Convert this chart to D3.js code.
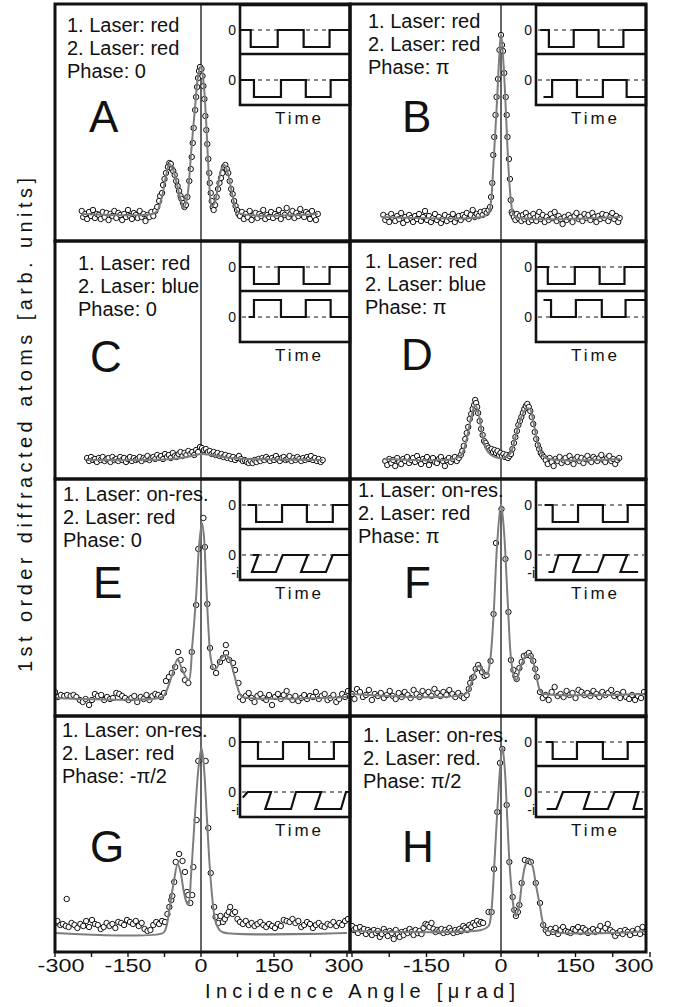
<!DOCTYPE html>
<html><head><meta charset="utf-8">
<script src="https://cdn.jsdelivr.net/npm/d3@7"></script>
<style>body{margin:0;background:#fff}svg{display:block}</style>
</head><body><svg id="c" width="678" height="1007"></svg>
<script>
// ---------------- DATA ----------------
const panelIds = ["A","B","C","D","E","F","G","H"];
const laser1 = ["red","red","red","red","on-res.","on-res.","on-res.","on-res."];
const laser2 = ["red","red","blue","blue","red","red","red","red."];
const phases = ["0","π","0","π","0","π","-π/2","π/2"];
const xTicksLeft = [-300,-150,0,150,300];
const xTicksRight = [-150,0,150,300];
const minorTicks = [-300,-225,-150,-75,0,75,150,225,300];
const xLabel = "Incidence Angle [μrad]";
const yLabel = "1st order diffracted atoms [arb. units]";

// measured points [angle µrad, signal arb.u.]
const ptsA = [[-245,30],[-242,24],[-238,27],[-234,22],[-230,29],[-226,25],[-222,31],[-218,23],[-214,27],[-210,26],[-206,22],[-202,29],[-198,24],[-194,28],[-190,21],[-186,27],[-182,25],[-178,30],[-174,23],[-170,28],[-166,26],[-162,21],[-158,27],[-154,24],[-150,31],[-146,25],[-142,22],[-138,28],[-134,26],[-130,23],[-126,30],[-122,24],[-118,27],[-114,20],[-110,26],[-106,24],[-102,29],[-98,25],[-94,30],
[-90,34],[-86,40],[-84,45],[-80,48],[-78,56],[-75,62],[-72,68],[-68,74],[-65,78],[-62,77],[-60,72],[-57,70],[-54,66],[-51,60],[-48,55],[-45,50],[-42,45],[-40,42],[-37,38],[-34,34],[-31,36],[-28,44],[-24,60],[-21,72],[-19,84],[-17,98],[-15,113],[-12,131],[-10,144],[-8,154],[-6,163],[-4,170],[-2,174],[1,172],[3,165],[5,155],[7,142],[9,125],[11,111],[13,97],[15,82],[17,68],[18,58],[20,48],[22,40],[24,34],[26,31],[29,36],[32,44],[35,52],[38,58],[41,63],[44,68],[47,74],[50,76],[53,72],[56,68],[59,60],[62,52],[65,47],[68,40],[71,35],[74,31],[77,27],
[80,25],[84,29],[88,22],[92,27],[96,24],[100,30],[104,21],[108,26],[112,28],[116,23],[120,27],[124,25],[128,31],[132,22],[136,26],[140,24],[144,29],[148,23],[152,27],[156,25],[160,31],[164,22],[168,28],[172,26],[176,33],[180,24],[184,27],[188,30],[192,23],[196,28],[200,25],[204,32],[208,26],[212,24],[216,29],[220,27],[224,22],[228,30],[232,25],[236,21],[240,27]];
const fitA = [[-245,27],[-100,27],[-90,30],[-80,45],[-72,65],[-65,77],[-58,72],[-50,58],[-42,42],[-35,33],[-28,45],[-20,90],[-12,135],[-6,165],[0,175],[5,160],[10,125],[14,85],[18,50],[22,35],[28,38],[35,55],[42,72],[48,76],[55,68],[62,52],[70,35],[78,28],[240,27]];

const ptsB = [[-237,26],[-233,21],[-229,24],[-225,19],[-221,27],[-217,23],[-213,20],[-209,25],[-205,22],[-201,28],[-197,18],[-193,24],[-189,21],[-185,26],[-181,23],[-177,19],[-173,25],[-169,22],[-165,27],[-161,20],[-157,24],[-153,30],[-149,21],[-145,25],[-141,19],[-137,23],[-133,27],[-129,21],[-125,24],[-121,18],[-117,22],[-113,26],[-109,20],[-105,24],[-101,22],[-97,27],[-93,19],[-89,23],[-85,25],[-81,21],[-77,26],[-73,24],[-69,28],[-65,22],[-61,26],[-57,31],[-53,24],[-49,27],[-45,25],[-41,29],[-37,26],[-33,30],[-29,28],[-25,31],
[-22,34],[-20,44],[-17.5,58],[-15.5,86],[-13.5,104],[-11,126],[-9,144],[-6,162],[-3,191],[0,206],[2,196],[4,190],[6.5,168],[9.5,144],[11.5,126],[13,104],[16,82],[18,62],[19.5,41],[21.5,29],[23,27],
[26,24],[29,21],[32,27],[35,23],[38,25],[41,20],[44,26],[47,22],[50,28],[53,24],[56,19],[59,25],[62,21],[65,27],[68,23],[71,20],[74,25],[77,29],[80,22],[84,26],[88,19],[92,24],[96,21],[100,27],[104,23],[108,29],[112,20],[116,25],[120,22],[124,17],[128,24],[132,21],[136,26],[140,23],[144,19],[148,25],[152,28],[156,22],[160,24],[164,20],[168,27],[172,23],[176,26],[180,21],[184,28],[188,24],[192,19],[196,25],[200,22],[204,27],[208,23],[212,26],[216,20],[220,24],[224,28],[228,22],[232,25],[236,19],[239,23]];
const fitB = [[-240,24],[-40,24],[-25,28],[-20,40],[-16,70],[-12,105],[-8,140],[-4,180],[0,207],[4,185],[8,150],[12,105],[16,65],[20,40],[24,28],[30,24],[240,24]];

const ptsC = [[-234,21],[-230,18],[-226,22],[-222,19],[-218,20],[-214,17],[-210,21],[-206,19],[-202,22],[-198,18],[-194,20],[-190,21],[-186,17],[-182,22],[-178,19],[-174,20],[-170,18],[-166,22],[-162,19],[-158,21],[-154,17],[-150,20],[-146,22],[-142,18],[-138,21],[-134,19],[-130,20],[-126,22],[-122,18],[-118,21],[-114,20],[-110,23],[-106,19],[-102,21],[-98,22],[-94,20],[-90,24],[-86,21],[-82,23],[-78,20],[-74,25],[-70,22],[-66,24],[-62,21],[-58,26],[-54,23],[-50,22],[-46,25],[-42,27],[-38,23],[-34,26],[-30,24],[-26,28],[-22,25],[-18,27],[-14,24],[-10,29],[-6,27],[-2,32],[2,31],[6,29],[10,30],[14,27],[18,28],[22,25],[26,27],[30,24],[34,26],[38,23],[42,25],[46,22],[50,24],[54,21],[58,23],[62,20],[66,22],[70,19],[74,21],[78,23],[82,20],[86,18],[90,19],[94,17],[98,16],[102,18],[106,16],[110,19],[114,17],[118,20],[122,18],[126,21],[130,19],[134,22],[138,20],[142,18],[146,21],[150,19],[154,23],[158,20],[162,18],[166,21],[170,22],[174,19],[178,20],[182,23],[186,18],[190,21],[194,19],[198,22],[202,20],[206,18],[210,21],[214,19],[218,22],[222,20],[226,23],[230,19],[234,21],[238,18],[242,20],[246,17],[250,19]];
const fitC = [[-235,19],[-60,20],[-20,23],[0,25],[20,24],[60,21],[250,19]];

const ptsD = [[-233,18],[-229,14],[-225,20],[-221,16],[-217,19],[-213,13],[-209,21],[-205,17],[-201,15],[-197,20],[-193,18],[-189,22],[-185,16],[-181,19],[-177,21],[-173,17],[-169,23],[-165,19],[-161,15],[-157,20],[-153,18],[-149,22],[-145,14],[-141,19],[-137,21],[-133,17],[-129,16],[-125,20],[-121,22],[-117,18],[-113,13],[-109,19],[-105,21],[-101,17],[-97,20],[-93,22],[-89,18],[-85,21],
[-81,24],[-78,28],[-75,33],[-72,40],[-69,46],[-66,52],[-63,60],[-60,65],[-57,70],[-54,74],[-52,79],[-50,76],[-48,72],[-46,66],[-43,58],[-40,50],[-37,44],[-34,38],[-31,36],[-28,33],[-25,31],[-22,29],[-19,30],[-16,27],[-13,29],[-10,26],[-7,28],[-4,24],[-1,26],[2,23],[5,25],[8,22],[11,24],[14,21],[17,23],[20,25],
[23,30],[26,36],[29,42],[32,48],[35,54],[38,58],[41,62],[44,66],[47,70],[50,73],[53,75],[56,72],[59,68],[62,62],[65,55],[68,47],[71,40],[74,34],[77,30],[80,26],[83,24],[86,22],
[90,19],[94,15],[98,21],[102,17],[106,13],[110,20],[114,18],[118,22],[122,16],[126,19],[130,21],[134,17],[138,23],[142,19],[146,15],[150,20],[154,22],[158,18],[162,21],[166,16],[170,20],[174,23],[178,19],[182,17],[186,22],[190,20],[194,18],[198,21],[202,24],[206,19],[210,17],[214,21],[218,23],[222,18],[226,20],[230,15],[234,19],[238,21]];
const fitD = [[-235,20],[-95,20],[-80,24],[-70,38],[-60,62],[-52,74],[-45,65],[-38,45],[-30,30],[-20,24],[-5,21],[5,21],[18,25],[28,40],[38,58],[50,70],[58,70],[65,58],[72,40],[80,27],[90,21],[240,20]];

const ptsE = [[-300,24],[-294,19],[-288,21],[-281,20],[-275,21],[-268,20],[-262,21],[-256,19],[-249,16],[-243,14],[-237,17],[-230,11],[-224,16],[-218,22],[-212,20],[-205,21],[-199,16],[-193,19],[-187,17],[-181,18],[-174,23],[-168,22],[-162,20],[-156,18],[-149,16],[-143,18],[-137,20],[-131,14],[-124,19],[-118,17],[-112,21],[-106,16],[-100,20],[-94,22],[-88,21],[-82,19],
[-76,23],[-72,35],[-66,39],[-60,43],[-53,49],[-47,64],[-42,56],[-36,46],[-33,36],[-26,33],[-19,64],[-10,111],[-5.5,167],[5,198],[8,169],[13,112],[18.5,68],[25,49],[31,43],[39,54],[45,58],[51,71],[51.5,63],[58,56],[66,53],[70,46],[77,33],[80,19],
[86,16],[92,20],[98,23],[104,18],[110,14],[116,20],[122,22],[128,18],[134,16],[140,21],[146,11],[152,19],[158,22],[164,17],[170,21],[176,25],[182,19],[188,16],[194,20],[200,15],[206,18],[212,21],[218,17],[224,20],[230,19],[236,24],[242,17],[248,20],[254,22],[260,16],[266,18],[272,21],[278,14],[284,17],[290,22],[296,19],[302,25]];
const fitE = [[-300,18],[-80,19],[-72,24],[-60,40],[-48,57],[-40,48],[-30,38],[-25,36],[-18,70],[-10,120],[-4,170],[2,193],[6,180],[10,140],[15,90],[20,58],[26,47],[32,48],[42,58],[52,61],[60,55],[70,38],[80,22],[86,19],[300,19]];

const ptsF = [[-300,22],[-295,17],[-290,27],[-284,24],[-278,19],[-272,21],[-266,26],[-260,16],[-254,22],[-248,20],[-242,23],[-236,18],[-230,21],[-224,25],[-218,20],[-212,17],[-206,23],[-200,19],[-194,24],[-188,21],[-182,18],[-176,26],[-170,22],[-164,19],[-158,25],[-152,21],[-146,24],[-140,20],[-134,27],[-128,23],[-122,20],[-116,24],[-110,21],[-104,26],[-98,22],[-92,19],[-86,23],[-80,20],[-75,18],
[-69,21],[-65,27],[-62,33],[-58,38],[-55,39],[-51,47],[-46,51],[-43,48],[-38,44],[-33,40],[-29,41],[-21,55],[-15,102],[-10,173],[1,207],[9,157],[15,104],[20,56],[25,46],[29,40],[31.5,37],[37,48],[41.6,54],[46,60],[51.7,61],[56,63],[59.7,60],[65,55],[69,47],[72,39],[78.5,24],
[84,18],[90,21],[96,16],[102,24],[108,29],[114,20],[120,22],[126,19],[132,25],[138,21],[144,23],[150,18],[156,26],[162,24],[168,21],[174,23],[180,20],[186,25],[192,22],[198,19],[204,24],[210,21],[216,23],[222,26],[228,20],[234,22],[240,18],[246,24],[252,19],[258,17],[264,21],[270,16],[276,20],[282,18],[288,24]];
const fitF = [[-300,22],[-72,22],[-62,30],[-50,47],[-44,50],[-36,44],[-28,42],[-22,55],[-15,100],[-8,170],[0,212],[6,185],[10,150],[15,100],[20,58],[26,40],[31,36],[40,50],[50,60],[58,61],[66,52],[72,38],[80,24],[88,22],[300,22]];

const ptsG = [[-300,29],[-295,31],[-289,27],[-284,28],[-276,53],[-278,26],[-272,25],[-266,29],[-260,27],[-254,24],[-248,28],[-242,26],[-236,31],[-230,25],[-224,32],[-218,28],[-212,27],[-206,23],[-200,25],[-194,29],[-188,26],[-182,28],[-176,24],[-170,30],[-164,29],[-158,27],[-152,32],[-146,30],[-140,28],[-134,31],[-128,26],[-122,29],[-116,23],[-110,21],[-104,22],[-98,27],[-92,30],[-86,28],[-80,31],
[-74,30],[-69,38],[-65,45],[-61,52],[-59,56],[-55,70],[-52,90],[-45,98],[-38,91],[-33,80],[-29,60],[-26,57],[-22,49],[-18,57],[-15.7,85],[-9,132],[-5.5,191],[9.6,191],[15,124],[20,79],[27,45],[30,35],[35.6,29],
[40,36],[45,30],[49,33],[53,37],[57,40],[60,45],[65,38],[70,40],[75,33],[80,30],[86,28],[92,31],[98,27],[104,29],[110,26],[116,28],[122,30],[128,27],[134,25],[140,28],[146,26],[152,24],[158,28],[164,26],[170,32],[176,31],[182,30],[188,33],[194,29],[200,31],[206,25],[212,27],[218,30],[224,28],[230,24],[236,27],[242,29],[248,26],[254,25],[260,28],[266,27],[272,30],[278,26],[284,29],[290,27],[296,31],[302,33]];
const fitG = [[-300,19],[-78,19],[-72,24],[-64,45],[-56,70],[-48,88],[-42,80],[-36,62],[-30,50],[-26,47],[-20,80],[-12,140],[-5,185],[1,204],[6,185],[12,135],[18,85],[24,50],[30,30],[38,22],[46,19.5],[300,19]];

const ptsH = [[-300,26],[-296,22],[-292,24],[-288,19],[-284,25],[-280,21],[-276,23],[-272,18],[-268,22],[-264,20],[-260,17],[-256,22],[-252,19],[-248,21],[-244,15],[-240,18],[-236,23],[-232,20],[-228,16],[-224,21],[-220,19],[-216,13],[-212,22],[-208,18],[-204,15],[-200,20],[-196,17],[-192,21],[-188,19],[-184,23],[-180,20],[-176,17],[-172,22],[-168,19],[-164,21],[-160,18],[-156,24],[-152,28],[-148,27],[-144,25],[-140,29],[-136,23],[-132,20],[-128,22],[-124,21],[-120,23],[-116,19],[-112,22],[-108,20],[-104,24],[-100,21],[-96,19],[-92,22],[-88,20],[-84,23],[-80,21],[-76,26],[-72,24],[-68,22],[-64,27],[-60,25],[-56,29],[-52,27],[-48,31],[-44,28],[-40,30],[-36,29],
[-25,40],[-19,40],[-14,83],[-7.4,140],[-2,189],[2.7,203],[11.4,147],[16.8,90],[23.5,55],[26.8,42],[30,36],[34,40],[37,47],[41.6,69],[48,92],[55,91],[60,90],[70,69],[78.5,49],[85,27],
[90,22],[95,19],[100,23],[105,20],[110,24],[115,18],[120,22],[125,25],[130,21],[135,20],[140,19],[145,23],[150,22],[155,25],[160,20],[165,24],[170,22],[175,19],[180,21],[185,23],[190,20],[195,22],[200,26],[205,21],[210,24],[215,28],[220,22],[225,20],[230,16],[235,19],[240,21],[245,18],[250,22],[255,20],[260,17],[265,21],[270,19],[275,23],[280,18],[285,25],[290,20]];
const fitH = [[-300,21],[-40,22],[-25,26],[-20,38],[-14,82],[-7,145],[0,195],[3,205],[8,180],[12,140],[17,90],[22,58],[27,40],[30,36],[36,45],[42,68],[50,88],[57,92],[64,85],[70,68],[78,47],[84,30],[90,22],[300,21]];

// inset waveforms [time %, field level]
const upperA = [[0,0],[9,0],[9,-1],[34,-1],[34,0],[58,0],[58,-1],[82,-1],[82,0],[100,0]];
const lowerA = [[0,0],[12,0],[12,-1],[37,-1],[37,0],[60,0],[60,-1],[83,-1],[83,0],[100,0]];
const upperB = [[3,0],[11,0],[11,-1],[34,-1],[34,0],[57,0],[57,-1],[80,-1],[80,0],[100,0]];
const lowerB = [[6,-1],[14,-1],[14,0],[37,0],[37,-1],[61,-1],[61,0],[83,0],[83,-1],[100,-1]];
const upperC = [[0,0],[12,0],[12,-1],[35,-1],[35,0],[58,0],[58,-1],[82,-1],[82,0],[100,0]];
const lowerC = [[7,0],[12,0],[12,1],[37,1],[37,0],[60,0],[60,1],[83,1],[83,0],[100,0]];
const upperD = [[0,0],[10,0],[10,-1],[35,-1],[35,0],[58,0],[58,-1],[81,-1],[81,0],[100,0]];
const lowerD = [[6,1],[13,1],[13,0],[36,0],[36,1],[60,1],[60,0],[82,0],[82,1],[100,1]];
const upperE = [[6,0],[14,0],[14,-1],[38,-1],[38,0],[61,0],[61,-1],[85,-1],[85,0],[100,0]];
const lowerE = [[10.8,0],[16,0],[10.2,-1],[32.4,-1],[38.6,0],[61.8,0],[55.6,-1],[78.7,-1],[84.9,0],[100,0]];
const upperF = [[7,0],[14.5,0],[14.5,-1],[38,-1],[38,0],[61,0],[61,-1],[84,-1],[84,0],[100,0]];
const lowerF = [[10.6,-1],[15.2,-1],[20,0],[39.4,0],[33.4,-1],[56.1,-1],[62.1,0],[83.4,0],[77.3,-1],[93.6,-1]];
const upperG = [[0,0],[15.7,0],[15.7,-1],[38.9,-1],[38.9,0],[63,0],[63,-1],[86,-1],[86,0],[100,0]];
const lowerG = [[1.6,-0.33],[6.2,0],[27.8,0],[22.5,-1],[46.3,-1],[50.9,0],[74.1,0],[68.8,-1],[92.6,-1],[97.2,0],[100,0]];
const upperH = [[8,0],[14.5,0],[14.5,-1],[37,-1],[37,0],[61,0],[61,-1],[84,-1],[84,0],[100,0]];
const lowerH = [[9,-1],[18,-1],[24,0],[48.5,0],[43.4,-1],[65.7,-1],[71.8,0],[93.9,0],[89.4,-1],[98,-1]];

// ---------------- LAYOUT ----------------
const pts = [ptsA,ptsB,ptsC,ptsD,ptsE,ptsF,ptsG,ptsH];
const fits = [fitA,fitB,fitC,fitD,fitE,fitF,fitG,fitH];
const uppers = [upperA,upperB,upperC,upperD,upperE,upperF,upperG,upperH];
const lowers = [lowerA,lowerB,lowerC,lowerD,lowerE,lowerF,lowerG,lowerH];
const rowTops = [4,241,479,716,952];
const cols = [{x0:55,x1:350,r:[55,347]},{x0:350,x1:646,r:[352,650]}];
const textPos = [[12,28],[18,24],[23,29],[15,27],[8,22],[8,18],[7,21],[13,26]];
const letterPos = [[34,128],[52,128],[35,131],[51,129],[38,119],[54,119],[35,146],[52,146]];

const svg = d3.select("#c");
const defs = svg.append("defs");
const FONT = "Arial, 'Liberation Sans', Helvetica, sans-serif";
const ink = "#111";

panelIds.forEach((id,i)=>{
  const col = cols[i%2];
  const row = Math.floor(i/2);
  const pt = rowTops[row], pb = rowTops[row+1];
  const x = d3.scaleLinear().domain([-300,300]).range(col.r);
  const y = d3.scaleLinear().domain([0,236]).range([pb, pb-236]);
  defs.append("clipPath").attr("id","clip"+id).append("rect")
    .attr("x",col.x0).attr("y",pt).attr("width",col.x1-col.x0).attr("height",pb-pt);
  const g = svg.append("g").attr("clip-path",`url(#clip${id})`);

  // zero line
  g.append("line").attr("x1",x(0)).attr("x2",x(0)).attr("y1",pt).attr("y2",pb)
    .attr("stroke","#000").attr("stroke-width",1.2);

  // points
  g.selectAll("circle").data(pts[i]).join("circle")
    .attr("cx",d=>x(d[0])).attr("cy",d=>y(d[1])).attr("r",2.7)
    .attr("fill","#fff").attr("stroke",ink).attr("stroke-width",1);

  // fit
  g.append("path").datum(fits[i])
    .attr("d", d3.line().x(d=>x(d[0])).y(d=>y(d[1])).curve(d3.curveCatmullRom.alpha(0.5)))
    .attr("fill","none").attr("stroke","#7d7d7d").attr("stroke-width",2);

  // text block
  const tx = col.x0 + textPos[i][0], ty = pt + textPos[i][1];
  const lines = ["1. Laser: "+laser1[i], "2. Laser: "+laser2[i], "Phase: "+phases[i]];
  lines.forEach((s,k)=>{
    g.append("text").attr("x",tx).attr("y",ty+k*23).text(s)
      .attr("font-family",FONT).attr("font-size",20).attr("fill",ink);
  });
  g.append("text").attr("x",col.x0+letterPos[i][0]).attr("y",pt+letterPos[i][1]).text(id)
    .attr("font-family",FONT).attr("font-size",44).attr("fill",ink);

  // inset
  const iL = col.x1 - 110, iR = col.x1;
  const ig = svg.append("g");
  ig.append("rect").attr("x",iL).attr("y",pt+1).attr("width",iR-iL).attr("height",100)
    .attr("fill","#fff").attr("stroke",ink).attr("stroke-width",2.6);
  ig.append("line").attr("x1",iL).attr("x2",iR).attr("y1",pt+50).attr("y2",pt+50)
    .attr("stroke",ink).attr("stroke-width",2.6);
  const tX = d3.scaleLinear().domain([0,100]).range([iL+1,iR-1]);
  const yU = d3.scaleLinear().domain([-1,0]).range([pt+43,pt+26]);
  const yL = d3.scaleLinear().domain([-1,1]).range([pt+93,pt+59]);
  [[yU,uppers[i]],[yL,lowers[i]]].forEach(([ys,wave])=>{
    ig.append("line").attr("x1",iL+2).attr("x2",iR-2).attr("y1",ys(0)).attr("y2",ys(0))
      .attr("stroke",ink).attr("stroke-width",1).attr("stroke-dasharray","4,4");
    ig.append("path").datum(wave)
      .attr("d", d3.line().x(d=>tX(d[0])).y(d=>ys(d[1])))
      .attr("fill","none").attr("stroke",ink).attr("stroke-width",2.2).attr("stroke-linejoin","miter");
    ig.append("text").attr("x",iL-4).attr("y",ys(0)).attr("dy","0.36em").attr("text-anchor","end")
      .text("0").attr("font-family",FONT).attr("font-size",14).attr("fill",ink);
  });
  if (row >= 2) {
    ig.append("text").attr("x",iL-1).attr("y",yL(-1)).attr("dy","0.4em").attr("text-anchor","end")
      .text("-i").attr("font-family",FONT).attr("font-size",14).attr("fill",ink);
  }
  ig.append("text").attr("x",(iL+iR)/2+3).attr("y",pt+120).attr("text-anchor","middle")
    .text("Time").attr("font-family",FONT).attr("font-size",17).attr("fill",ink)
    .attr("textLength",46).attr("lengthAdjust","spacing");

  // panel border
  svg.append("rect").attr("x",col.x0).attr("y",pt).attr("width",col.x1-col.x0).attr("height",pb-pt)
    .attr("fill","none").attr("stroke",ink).attr("stroke-width",3);

  // bottom axis
  if (row === 3) {
    const ax = svg.append("g");
    minorTicks.forEach(v=>{
      ax.append("line").attr("x1",x(v)).attr("x2",x(v)).attr("y1",pb).attr("y2",pb+5)
        .attr("stroke",ink).attr("stroke-width",1.4);
    });
    const labs = i%2===0 ? xTicksLeft : xTicksRight;
    labs.forEach(v=>{
      let cx = x(v);
      if (i%2===0 && v===-300) cx += 6;
      if (i%2===0 && v===300) cx -= 3;
      if (i%2===1 && v===300) cx -= 16;
      ax.append("text").attr("transform",`translate(${cx},${pb+20}) scale(1.3,1)`)
        .attr("text-anchor","middle").text(v)
        .attr("font-family",FONT).attr("font-size",18).attr("fill",ink);
    });
  }
});

// axis titles
svg.append("text").attr("x",360).attr("y",998).attr("text-anchor","middle")
  .attr("textLength",310).attr("lengthAdjust","spacing")
  .text(xLabel).attr("font-family",FONT).attr("font-size",20).attr("fill",ink);
svg.append("text").attr("transform","translate(32,425) rotate(-90)").attr("text-anchor","middle")
  .attr("textLength",494).attr("lengthAdjust","spacing")
  .text(yLabel).attr("font-family",FONT).attr("font-size",20).attr("fill",ink);
</script></body></html>
